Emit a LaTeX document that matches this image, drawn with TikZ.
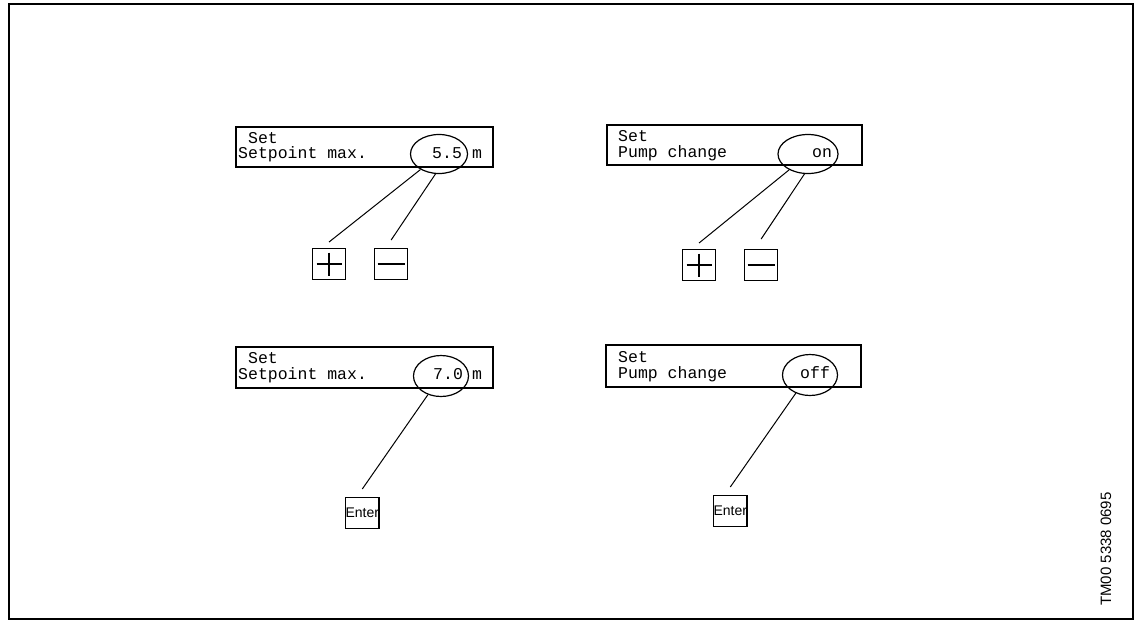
\documentclass[tikz,border=0pt]{standalone}
\usepackage{fontspec}
\setmonofont{Liberation Mono}
\setsansfont{Liberation Sans}
\usetikzlibrary{positioning, shapes.geometric}

\begin{document}
\begin{tikzpicture}[x=1pt, y=-1pt,
    display/.style={draw, line width=1.1pt, anchor=north west, inner sep=0pt,
      outer sep=0pt, minimum height=40pt},
    readout/.style={font=\ttfamily\fontsize{16.5}{13}\selectfont, anchor=base west,
      inner sep=0pt},
    spot/.style={draw, ellipse, line width=1.2pt, minimum width=57pt,
      minimum height=39pt, inner sep=0pt},
    key/.style={draw, line width=1.1pt, anchor=north west, minimum width=33pt,
      minimum height=31pt, inner sep=0pt},
    pluskey/.style={key, path picture={
      \draw[line width=1.2pt] ([xshift=4pt]path picture bounding box.west) -- ([xshift=-4pt]path picture bounding box.east)
        ([yshift=-4pt]path picture bounding box.north) -- ([yshift=4pt]path picture bounding box.south);}},
    minuskey/.style={key, path picture={
      \draw[line width=1.2pt] ([xshift=3pt]path picture bounding box.west) -- ([xshift=-3pt]path picture bounding box.east);}},
    enterkey/.style={key, font=\sffamily\fontsize{14}{14}\selectfont},
    wire/.style={draw, line width=1pt},
    node distance=28pt,
  ]
    \useasboundingbox (0,0) rectangle (1137,622);
    \draw[line width=2pt] (9,4) rectangle (1133,619);

    % setpoint, before
    \node[display, minimum width=257pt] (disp1) at (236,127) {};
    \node[readout] (head1) at (238,143) {\hphantom{S}Set};
    \node[readout] (name1) at (238,158) {Setpoint max.};
    \node[spot] (spot1) at (439,154) {};
    \node[readout] (val1) at (432,158) {5.5};
    \node[readout] (unit1) at (472,158) {m};
    \node[pluskey] (plus1) at (312,248) {};
    \node[minuskey, right=28pt of plus1.north east, anchor=north west] (minus1) {};
    \draw[wire] (spot1.-140) -- ([yshift=6pt]plus1.north);
    \draw[wire] (spot1.-100) -- ([yshift=8pt]minus1.north);

    % pump change, before
    \node[display, minimum width=255pt] (disp2) at (607,125) {};
    \node[readout] (head2) at (618,141) {Set};
    \node[readout] (name2) at (618,157) {Pump change};
    \node[spot, minimum width=60pt] (spot2) at (808,154) {};
    \node[readout] (val2) at (812,157) {on};
    \node[pluskey] (plus2) at (682,249) {};
    \node[minuskey, right=28pt of plus2.north east, anchor=north west] (minus2) {};
    \draw[wire] (spot2.-140) -- ([yshift=6pt]plus2.north);
    \draw[wire] (spot2.-100) -- ([yshift=10pt]minus2.north);

    % setpoint, after
    \node[display, minimum width=257pt, minimum height=41pt] (disp3) at (236,347) {};
    \node[readout] (head3) at (238,363) {\hphantom{S}Set};
    \node[readout] (name3) at (238,379) {Setpoint max.};
    \node[spot, minimum width=55pt, minimum height=41pt] (spot3) at (441,376) {};
    \node[readout] (val3) at (433,379) {7.0};
    \node[readout] (unit3) at (472,379) {m};
    \node[enterkey] (enter3) at (345,497) {Enter};
    \draw[wire] (spot3.-125) -- ([yshift=8pt]enter3.north);

    % pump change, after
    \node[display, minimum width=255pt, minimum height=42pt] (disp4) at (606,345) {};
    \node[readout] (head4) at (618,362) {Set};
    \node[readout] (name4) at (618,378) {Pump change};
    \node[spot, minimum width=55pt, minimum height=41pt] (spot4) at (810,375) {};
    \node[readout] (val4) at (800,378) {off};
    \node[enterkey] (enter4) at (713,495) {Enter};
    \draw[wire] (spot4.-128) -- ([yshift=8pt]enter4.north);

    \node[font=\sffamily\fontsize{15}{15}\selectfont, rotate=90] (code) at (1106,549) {TM00 5338 0695};
\end{tikzpicture}
\end{document}
